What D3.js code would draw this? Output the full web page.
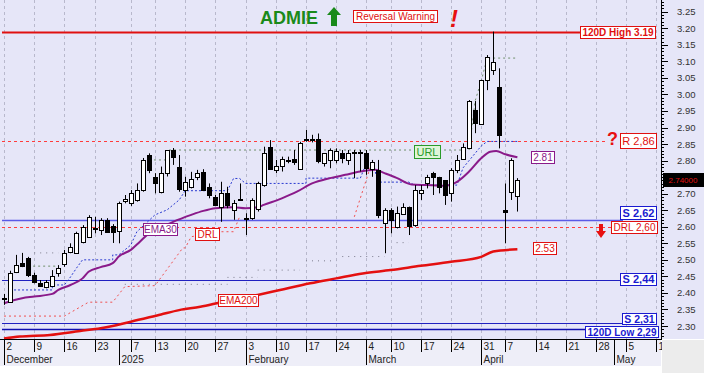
<!DOCTYPE html>
<html>
<head>
  <script src="https://d3js.org/d3.v7.min.js"></script>
  <style>
    body { margin: 0; background: #fff; }
    svg text { font-family: Arial, "Liberation Sans", sans-serif; }
  </style>
</head>
<body>
  <div id="chart"></div>
  <script>
    var w = 704;
    var h = 373;
    var plotL = 2, plotR = 661, plotT = 0, plotB = 339;

    // daily candles, one per trading day from 2 December 2024
    var opens  = [2.385,2.374,2.464,2.491,2.506,2.454,2.431,2.419,2.422,2.459,2.487,2.525,2.520,2.555,2.570,2.592,2.590,2.620,2.602,2.585,
                  2.677,2.672,2.681,2.711,2.817,2.750,2.706,2.762,2.832,2.782,2.711,2.721,2.751,2.766,2.721,2.691,2.661,2.703,2.651,2.683,
                  2.625,2.626,2.651,2.726,2.842,2.772,2.782,2.801,2.804,2.774,2.864,2.864,2.864,2.792,2.802,2.804,2.822,2.802,2.826,2.825,
                  2.822,2.777,2.772,2.611,2.651,2.600,2.641,2.661,2.605,2.701,2.731,2.762,2.751,2.741,2.701,2.772,2.807,2.839,2.953,2.910,
                  3.044,3.074,3.023,2.651,2.706,2.691];
    var highs  = [2.397,2.467,2.515,2.521,2.509,2.461,2.439,2.439,2.469,2.484,2.530,2.550,2.585,2.605,2.635,2.630,2.626,2.626,2.608,2.676,
                  2.696,2.711,2.731,2.808,2.822,2.762,2.782,2.832,2.838,2.817,2.751,2.766,2.772,2.774,2.731,2.696,2.736,2.721,2.681,2.731,
                  2.641,2.686,2.736,2.842,2.862,2.802,2.812,2.812,2.832,2.857,2.893,2.878,2.882,2.822,2.837,2.837,2.832,2.832,2.832,2.832,
                  2.832,2.802,2.802,2.656,2.656,2.661,2.671,2.661,2.726,2.726,2.757,2.766,2.751,2.741,2.777,2.817,2.852,2.983,2.980,3.044,
                  3.119,3.190,3.079,2.731,2.807,2.747];
    var lows   = [2.364,2.370,2.460,2.478,2.448,2.429,2.419,2.414,2.419,2.449,2.479,2.520,2.518,2.550,2.566,2.580,2.575,2.584,2.551,2.550,
                  2.671,2.663,2.676,2.706,2.762,2.701,2.701,2.752,2.787,2.706,2.691,2.716,2.741,2.711,2.686,2.663,2.615,2.656,2.621,2.681,
                  2.575,2.621,2.646,2.721,2.772,2.762,2.767,2.792,2.787,2.772,2.857,2.855,2.792,2.782,2.777,2.792,2.792,2.787,2.747,2.767,
                  2.757,2.751,2.626,2.520,2.580,2.595,2.636,2.575,2.600,2.681,2.716,2.696,2.701,2.666,2.676,2.762,2.807,2.837,2.883,2.908,
                  3.013,3.059,2.837,2.550,2.681,2.646];
    var closes = [2.382,2.461,2.484,2.481,2.454,2.434,2.422,2.434,2.451,2.475,2.521,2.540,2.580,2.599,2.630,2.595,2.620,2.585,2.585,2.671,
                  2.684,2.702,2.711,2.802,2.772,2.733,2.763,2.832,2.812,2.716,2.736,2.744,2.763,2.713,2.696,2.666,2.703,2.666,2.671,2.684,
                  2.624,2.681,2.731,2.822,2.774,2.784,2.804,2.802,2.794,2.852,2.865,2.862,2.797,2.822,2.832,2.830,2.807,2.822,2.827,2.826,
                  2.777,2.797,2.636,2.651,2.621,2.641,2.661,2.605,2.711,2.711,2.750,2.751,2.721,2.696,2.772,2.802,2.842,2.980,2.913,3.044,
                  3.114,3.099,2.877,2.646,2.802,2.740];

    // moving averages as [day index, value]
    var ema30 = [[0,2.369],[3,2.384],[5,2.389],[8,2.397],[9,2.409],[11,2.424],[13,2.444],[14,2.464],[16,2.478],[18,2.490],
                 [19,2.510],[21,2.530],[22.5,2.555],[24,2.580],[26,2.598],[28,2.615],[31,2.636],[33,2.648],[35,2.656],[38,2.659],
                 [40,2.656],[42,2.659],[43,2.666],[46,2.686],[48.5,2.706],[51,2.731],[54,2.747],[56.5,2.757],[59,2.767],[61.5,2.772],
                 [63,2.762],[65,2.748],[67.5,2.728],[70,2.726],[73,2.724],[75,2.736],[77,2.767],[79,2.807],[80.5,2.827],[81.5,2.829],
                 [83,2.819],[85,2.810]];
    var ema200 = [[0,2.262],[2.6,2.268],[7.6,2.273],[12.6,2.285],[16,2.293],[21,2.313],[26,2.335],[29,2.348],[32.5,2.358],[36,2.372],
                  [42,2.394],[45.7,2.409],[50.7,2.429],[55,2.444],[59.4,2.459],[64,2.469],[69,2.482],[74,2.494],[79,2.509],[81,2.525],
                  [85,2.532]];

    // trailing step lines
    var trailBlue = [[1,2.409],[8,2.409],[8,2.424],[10,2.424],[11,2.448],[12,2.475],[13,2.500],[18,2.500],[18,2.515],[19,2.515],
                     [21,2.545],[22,2.585],[25,2.636],[27,2.651],[29,2.681],[30,2.709],[37,2.709],[38,2.746],[39,2.746],[40,2.731],
                     [50,2.731],[50,2.747],[59,2.747],[60,2.793],[61,2.793],[62,2.735],[67,2.735],[68,2.726],[75,2.726],[76,2.778],
                     [79,2.844],[80,2.858],[85,2.858]];
    var drlSteps = [[0,2.330],[10,2.330],[14,2.372],[18,2.372],[20,2.419],[25,2.422],[29.6,2.536],[30,2.536],[31,2.570],[36,2.585],
                    [38,2.585],[39,2.630]];
    var drlRise = [[58,2.630],[61,2.800]];
    var urlSteps = [[[4,2.481],[9,2.481]], [[24,2.802],[27,2.802],[27,2.832],[77,2.832],[78,2.98],[79,3.04],[80,3.11],[85,3.11]]];
    var grayDots = [[[5,2.521],[9,2.521]], [[20,2.426],[37,2.426]], [[37,2.447],[42,2.447]], [[42,2.469],[49,2.469]],
                    [[50,2.497],[55,2.497]], [[56,2.510],[63,2.510]], [[65,2.552],[67,2.552]]];

    // horizontal levels
    var levelValues = [3.19, 2.86, 2.62, 2.60, 2.44, 2.31, 2.29];
    var levelLabels = ["120D High 3.19", "R 2,86", "S 2,62", "DRL 2,60", "S 2,44", "S 2,31", "120D Low 2,29"];

    // time axis
    var tickIdx = [0,5,10,15,21,25,30,35,40,45,50,55,60,64,69,74,79,83,88,93,98,103,108];
    var tickLabels = ["2","9","16","23","7","13","20","27","3","10","17","24","4","10","17","24","31","7","14","21","28","5","12"];
    var monthIdx = [0,19,40,60,79,101];
    var monthLabels = ["December","2025","February","March","April","May"];

    var lastPrice = "2.74000";

    var xScale = d3.scaleLinear().domain([0, 108]).range([4, 656.3]);
    var yScale = d3.scaleLinear().domain([2.30, 3.20]).range([326, 28.3]);

    var svg = d3.select("#chart").append("svg")
      .attr("width", w)
      .attr("height", h);

    svg.append("rect").attr("x", 0).attr("y", 0).attr("width", w).attr("height", h).attr("fill", "#ffffff");
    svg.append("rect").attr("x", 0).attr("y", 0).attr("width", w).attr("height", plotB).attr("fill", "#e6e6f8");
    svg.append("rect").attr("x", 0).attr("y", plotB).attr("width", plotR).attr("height", 27).attr("fill", "#eeeef8");

    svg.append("clipPath").attr("id", "plotClip")
      .append("rect").attr("x", plotL).attr("y", plotT).attr("width", plotR - plotL).attr("height", plotB - plotT);

    var plot = svg.append("g").attr("clip-path", "url(#plotClip)");

    var px = d => Math.round(xScale(d)) + 0.5;
    var py = d => Math.round(yScale(d)) + 0.5;

    // vertical grid
    plot.selectAll(".grid").data(tickIdx).enter().append("line")
      .attr("class", "grid")
      .attr("x1", d => px(d)).attr("x2", d => px(d))
      .attr("y1", plotT).attr("y2", plotB)
      .attr("stroke", "#b8b8cc")
      .attr("stroke-dasharray", "3,3");

    var line = d3.line().x(d => xScale(d[0])).y(d => yScale(d[1]));
    var smooth = d3.line().x(d => xScale(d[0])).y(d => yScale(d[1])).curve(d3.curveMonotoneX);

    // level lines
    var levelStyle = [
      {color: "#e01010", width: 2, dash: null, end: 581},
      {color: "#ff3c3c", width: 1, dash: "3,3", end: 606},
      {color: "#5a5ae6", width: 1.5, dash: null, end: 623},
      {color: "#ff3c3c", width: 1, dash: "3,3", end: 613},
      {color: "#2020c0", width: 1, dash: null, end: 624},
      {color: "#2020c0", width: 1, dash: null, end: 624},
      {color: "#1010b0", width: 1.5, dash: null, end: 586}
    ];
    plot.selectAll(".level").data(levelValues).enter().append("line")
      .attr("class", "level")
      .attr("x1", plotL).attr("x2", (d, i) => levelStyle[i].end)
      .attr("y1", d => py(d)).attr("y2", d => py(d))
      .attr("stroke", (d, i) => levelStyle[i].color)
      .attr("stroke-width", (d, i) => levelStyle[i].width)
      .attr("stroke-dasharray", (d, i) => levelStyle[i].dash);

    // dotted indicator lines
    grayDots.forEach(function(seg) {
      plot.append("path").attr("d", line(seg)).attr("fill", "none")
        .attr("stroke", "#7a7a8a").attr("stroke-width", 1).attr("stroke-dasharray", "1,5");
    });
    urlSteps.forEach(function(seg) {
      plot.append("path").attr("d", line(seg)).attr("fill", "none")
        .attr("stroke", "#6f8f6a").attr("stroke-width", 1).attr("stroke-dasharray", "2,3");
    });
    [drlSteps, drlRise].forEach(function(seg) {
      plot.append("path").attr("d", line(seg)).attr("fill", "none")
        .attr("stroke", "#f05050").attr("stroke-width", 1).attr("stroke-dasharray", "2,3");
    });
    plot.append("path").attr("d", line(trailBlue)).attr("fill", "none")
      .attr("stroke", "#2a3ad0").attr("stroke-width", 1).attr("stroke-dasharray", "2,2");

    // moving averages
    plot.append("path").attr("d", smooth(ema200)).attr("fill", "none")
      .attr("stroke", "#e41010").attr("stroke-width", 2.5);
    plot.append("path").attr("d", smooth(ema30)).attr("fill", "none")
      .attr("stroke", "#8a1a8a").attr("stroke-width", 2);

    // candles
    var candles = d3.range(opens.length).map(i => ({i: i, o: opens[i], h: highs[i], l: lows[i], c: closes[i]}));
    var cg = plot.selectAll(".candle").data(candles).enter().append("g").attr("class", "candle");
    cg.append("line")
      .attr("x1", d => px(d.i)).attr("x2", d => px(d.i))
      .attr("y1", d => yScale(d.h)).attr("y2", d => yScale(d.l))
      .attr("stroke", "#000").attr("stroke-width", 1);
    cg.append("rect")
      .attr("x", d => Math.round(xScale(d.i)) - 1.5)
      .attr("width", 4)
      .attr("y", d => Math.round(yScale(Math.max(d.o, d.c))) + 0.5)
      .attr("height", d => Math.max(1, Math.round(Math.abs(yScale(d.o) - yScale(d.c)))))
      .attr("fill", d => d.c >= d.o ? "#ffffff" : "#000000")
      .attr("stroke", "#000").attr("stroke-width", 1);

    // label boxes
    function box(g, x, yc, text, o) {
      var size = o.size || 10;
      var bg = g.append("g");
      var r = bg.append("rect");
      var t = bg.append("text").text(text)
        .attr("font-size", size)
        .attr("font-weight", o.bold ? "bold" : "normal")
        .attr("fill", o.color);
      var tw = t.node().getComputedTextLength();
      var bw = Math.round(tw + (o.pad || 4));
      var bh = o.h || 12;
      var left = o.anchor === "end" ? x - bw : x;
      var top = Math.round(yc - bh / 2);
      r.attr("x", left + 0.5).attr("y", top + 0.5)
        .attr("width", bw).attr("height", bh)
        .attr("fill", o.fill || "#ffffff")
        .attr("stroke", o.stroke || o.color).attr("stroke-width", 1);
      t.attr("x", left + bw / 2 + 0.5).attr("y", top + bh / 2 + size * 0.36 + 0.5)
        .attr("text-anchor", "middle");
    }

    var labels = svg.append("g");
    var levelBox = [
      {color: "#e01010", bold: true, right: 655, dy: 0},
      {color: "#e01010", bold: false, right: 656, dy: 0, size: 11, h: 15},
      {color: "#1a1ad0", bold: true, right: 656, dy: -8, size: 11, h: 13},
      {color: "#e01010", bold: false, right: 657, dy: 0},
      {color: "#1a1ad0", bold: true, right: 656, dy: -1, size: 11, h: 12},
      {color: "#1a1ad0", bold: true, right: 656, dy: -4.5, size: 10.5, h: 11},
      {color: "#1a1ad0", bold: true, right: 658, dy: 2.5, h: 11}
    ];
    levelValues.forEach(function(v, i) {
      var s = levelBox[i];
      box(labels, s.right, yScale(v) + s.dy, levelLabels[i],
        {color: s.color, bold: s.bold, anchor: "end", size: s.size, h: s.h});
    });

    box(labels, 531, yScale(ema30[ema30.length - 1][1]) - 0.5, d3.format(".2f")(ema30[ema30.length - 1][1]), {color: "#8a1a8a"});
    box(labels, 533, yScale(ema200[ema200.length - 1][1]) - 1.5, d3.format(".2f")(ema200[ema200.length - 1][1]), {color: "#e01010"});
    box(labels, 143, 228.5, "EMA30", {color: "#8a1a8a", pad: 1});
    box(labels, 195, 234, "DRL", {color: "#e01010"});
    box(labels, 218, 300, "EMA200", {color: "#e01010", pad: 2});
    box(labels, 414, 151, "URL", {color: "#2a9a2a", size: 11, fill: "#dff5d8", h: 13});

    // title and warnings
    svg.append("text").attr("x", 260).attr("y", 24).text("ADMIE")
      .attr("font-size", 18).attr("font-weight", "bold").attr("fill", "#1a8a1a");
    svg.append("path")
      .attr("d", "M334,7 L341,15 L337,15 L337,26 L331,26 L331,15 L327,15 Z")
      .attr("fill", "#1a8a1a");
    box(svg, 353, 16, "Reversal Warning", {color: "#e01010", pad: 5});
    svg.append("text").attr("x", 450).attr("y", 27).text("!")
      .attr("font-size", 24).attr("font-weight", "bold").attr("font-style", "italic").attr("fill", "#e81010");
    svg.append("text").attr("x", 607).attr("y", 145).text("?")
      .attr("font-size", 18).attr("font-weight", "bold").attr("fill", "#e81010");
    svg.append("path")
      .attr("d", "M599,224 L603,224 L603,231 L606,231 L601,238 L596,231 L599,231 Z")
      .attr("fill", "#e81010");

    // right price axis
    var axisG = svg.append("g");
    axisG.append("line").attr("x1", plotR + 0.5).attr("x2", plotR + 0.5).attr("y1", 0).attr("y2", plotB)
      .attr("stroke", "#000");
    var minor = d3.range(227, 329).map(d => d / 100);
    axisG.selectAll(".minor").data(minor).enter().append("line")
      .attr("x1", plotR).attr("x2", d => plotR + (Math.round(d * 100) % 5 === 0 ? 7 : 3))
      .attr("y1", d => py(d)).attr("y2", d => py(d))
      .attr("stroke", "#000");
    var major = d3.range(230, 330, 5).map(d => d / 100);
    var lp = +lastPrice;
    // the last price marker hides the scale label it covers
    axisG.selectAll(".ylab").data(major.filter(d => Math.abs(yScale(d) - yScale(lp)) > 8)).enter().append("text")
      .attr("x", 677).attr("y", d => yScale(d) + 3.5)
      .attr("font-size", 9.5).attr("fill", "#333")
      .text(d => d3.format(".2f")(d));

    // last price marker
    axisG.append("rect").attr("x", 663).attr("y", Math.round(yScale(lp)) - 7)
      .attr("width", 41).attr("height", 14).attr("fill", "#000");
    axisG.append("text").attr("x", 683).attr("y", yScale(lp) + 3)
      .attr("text-anchor", "middle").attr("font-size", 8).attr("fill", "#e01010").text(lastPrice);

    // time axis
    var xg = svg.append("g");
    xg.append("line").attr("x1", 0).attr("x2", plotR + 1).attr("y1", plotB + 0.5).attr("y2", plotB + 0.5).attr("stroke", "#000");
    xg.selectAll(".xtick").data(tickIdx).enter().append("line")
      .attr("x1", d => px(d)).attr("x2", d => px(d))
      .attr("y1", plotB).attr("y2", plotB + 13)
      .attr("stroke", "#000");
    xg.selectAll(".xlab").data(tickIdx).enter().append("text")
      .attr("x", d => px(d) + 2).attr("y", plotB + 11)
      .attr("font-size", 10).attr("fill", "#222")
      .text((d, i) => tickLabels[i]);
    xg.selectAll(".mtick").data(monthIdx).enter().append("line")
      .attr("x1", d => px(d)).attr("x2", d => px(d))
      .attr("y1", plotB).attr("y2", plotB + 26)
      .attr("stroke", "#000");
    xg.selectAll(".mlab").data(monthIdx).enter().append("text")
      .attr("x", d => px(d) + 2).attr("y", plotB + 24)
      .attr("font-size", 10).attr("fill", "#222")
      .text((d, i) => monthLabels[i]);
    // grey corner under the price scale
    svg.append("rect").attr("x", plotR + 1).attr("y", plotB + 1).attr("width", w - plotR).attr("height", h - plotB)
      .attr("fill", "#ececec");
  </script>
</body>
</html>
